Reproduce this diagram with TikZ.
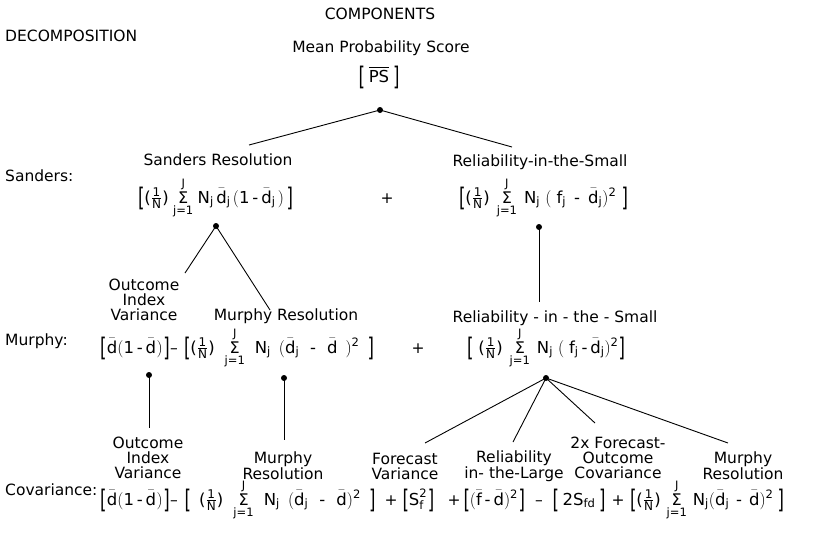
\documentclass[tikz,border=0pt]{standalone}
\usepackage{amsmath}
\usepackage{graphicx}
\usepackage{fontspec}
\setmainfont{DejaVu Sans}
\setsansfont{DejaVu Sans}
\medmuskip=3mu\relax
\thickmuskip=4mu\relax
\thinmuskip=2mu\relax
\newcommand{\tx}[1]{\text{#1}}
\newcommand{\G}{\hskip 0.5pt plus 1fil\relax}
\newcommand{\LB}{\mathopen{\hbox{\raisebox{-0.24em}{\scalebox{1}[1.55]{[}}}}}
\newcommand{\RB}{\mathclose{\hbox{\raisebox{-0.24em}{\scalebox{1}[1.55]{]}}}}}
\newcommand{\mi}{\mathbin{\text{-}}}
\newcommand{\sd}{\bar{\tx{d}}}
\newcommand{\sdj}{\bar{\tx{d}}_{\tx{j}}}
\newcommand{\Nj}{\tx{N}_{\tx{j}}}
\newcommand{\smf}[1]{\hbox{\fontsize{12}{12}\selectfont #1}}
\newcommand{\frN}{\tx{(}\frac{\smf{1}}{\smf{N}}\tx{)}}
\newcommand{\sumj}{\mathop{\hbox{\fontsize{16}{16}\selectfont Σ}}\limits_{\tx{j=1}}^{\tx{J}}}
\newcommand{\fw}[2]{\hbox to #1pt{$#2$}}
\tikzset{
  lbl/.style={inner sep=0pt, align=center, font=\fontsize{15.5}{15}\selectfont},
  side/.style={lbl, anchor=west},
  frm/.style={inner sep=0pt, anchor=base, font=\fontsize{16.5}{15}\selectfont},
  opn/.style={inner sep=0pt, anchor=base, font=\fontsize{15.5}{15}\selectfont},
  dotn/.style={circle, fill=black, inner sep=0pt, minimum size=6pt},
  conn/.style={line width=0.9pt}
}
\begin{document}
\begin{tikzpicture}[x=1pt,y=-1pt]
\useasboundingbox (0,0) rectangle (821,536);
% headings
\node[side] (dec) at (5,36) {DECOMPOSITION};
\node[lbl] (comp) at (380,14) {COMPONENTS};
\node[lbl] (mps) at (381,48) {Mean\ Probability\ Score};
\node[frm] (ps) at (379,82) {\fw{41}{\LB\G\overline{\tx{PS}}\G\RB}};
\node[dotn] (dA) at (380,110) {};
% Sanders row
\node[side] (lsan) at (5,176) {Sanders:};
\node[lbl] (sres) at (218,160) {Sanders Resolution};
\node[lbl] (rsm1) at (540,162) {Reliability-in-the-Small};
\node[frm] (t21) at (215.5,203) {\fw{155}{\LB\frN\G\sumj\G\Nj\G\sdj\G(\tx{1}\mi\sdj\G)\G\RB}};
\node[opn] (p21) at (387,203) {+};
\node[frm] (t22) at (543.5,203) {\fw{169}{\LB\frN\G\sumj\G\Nj\G(\G\tx{f}_{\tx{j}}\G\mi\G\sdj)^{\tx{2}}\G\RB}};
\node[dotn] (dB) at (216,226) {};
\node[dotn] (dC) at (539,227) {};
% Murphy row
\node[lbl] (oiv1) at (144,300) {Outcome\\Index\\Variance};
\node[lbl] (mres1) at (286,316) {Murphy Resolution};
\node[lbl] (rsm2) at (555,318) {Reliability - in - the - Small};
\node[side] (lmur) at (5,341) {Murphy:};
\node[frm] (t31) at (132,353) {\fw{64}{\LB\G\sd(\tx{1}\mi\sd\G)\G\RB}};
\node[opn] (m31) at (174,353) {–};
\node[frm] (t32) at (279,353) {\fw{190}{\LB\frN\G\sumj\G\Nj\G(\sdj\G\mi\G\sd\G)^{\tx{2}}\G\RB}};
\node[opn] (p31) at (418,353) {+};
\node[frm] (t33) at (546,353) {\fw{158}{\LB\G\frN\G\sumj\G\Nj\G(\G\tx{f}_{\tx{j}}\mi\sdj)^{\tx{2}}\RB}};
\node[dotn] (dD) at (149,375) {};
\node[dotn] (dE) at (284,378) {};
\node[dotn] (dF) at (546,378) {};
% Covariance row
\node[lbl] (oiv2) at (148,458) {Outcome\\Index\\Variance};
\node[lbl] (mres2) at (283,466) {Murphy\\Resolution};
\node[lbl] (fv) at (405,466) {Forecast\\Variance};
\node[lbl] (ritl) at (514,466) {Reliability\\in- the-Large};
\node[lbl] (fcov) at (618,458) {2x Forecast-\\Outcome\\Covariance};
\node[lbl] (mres3) at (743,466) {Murphy\\Resolution};
\node[side] (lcov) at (5,490) {Covariance:};
\node[frm] (t41) at (132,505) {\fw{64}{\LB\G\sd(\tx{1}\mi\sd\G)\G\RB}};
\node[opn] (m41) at (174,505) {–};
\node[frm] (t42) at (280,505) {\fw{191}{\LB\G\frN\G\sumj\G\Nj\G(\sdj\G\mi\G\sd)^{\tx{2}}\G\RB}};
\node[opn] (p41) at (391,505) {+};
\node[frm] (t43) at (417,505) {\fw{29}{\LB\tx{S}_{\tx{f}}^{\tx{2}}\G\RB}};
\node[opn] (p42) at (454,505) {+};
\node[frm] (t44) at (493,505) {\fw{59}{\LB(\bar{\tx{f}}\mi\sd)^{\tx{2}}\G\RB}};
\node[opn] (m42) at (539,505) {–};
\node[frm] (t45) at (579,505) {\fw{53}{\LB\G\tx{2S}_{\tx{fd}}\G\RB}};
\node[opn] (p43) at (618,505) {+};
\node[frm] (t46) at (707,505) {\fw{154}{\LB\frN\G\sumj\G\Nj(\sdj\G\mi\G\sd)^{\tx{2}}\G\RB}};
% connector ends
\coordinate (cA1) at (249,145);
\coordinate (cA2) at (512,147);
\coordinate (cB1) at (185,273);
\coordinate (cB2) at (270,310);
\coordinate (cC) at (539,302);
\coordinate (cD) at (149,428);
\coordinate (cE) at (284,440);
\coordinate (cF1) at (425,443);
\coordinate (cF2) at (513,442);
\coordinate (cF3) at (595,423);
\coordinate (cF4) at (728,443);
\draw[conn] (dA.center) -- (cA1);
\draw[conn] (dA.center) -- (cA2);
\draw[conn] (dB.center) -- (cB1);
\draw[conn] (dB.center) -- (cB2);
\draw[conn] (dC.center) -- (cC);
\draw[conn] (dD.center) -- (cD);
\draw[conn] (dE.center) -- (cE);
\draw[conn] (dF.center) -- (cF1);
\draw[conn] (dF.center) -- (cF2);
\draw[conn] (dF.center) -- (cF3);
\draw[conn] (dF.center) -- (cF4);
\end{tikzpicture}
\end{document}
